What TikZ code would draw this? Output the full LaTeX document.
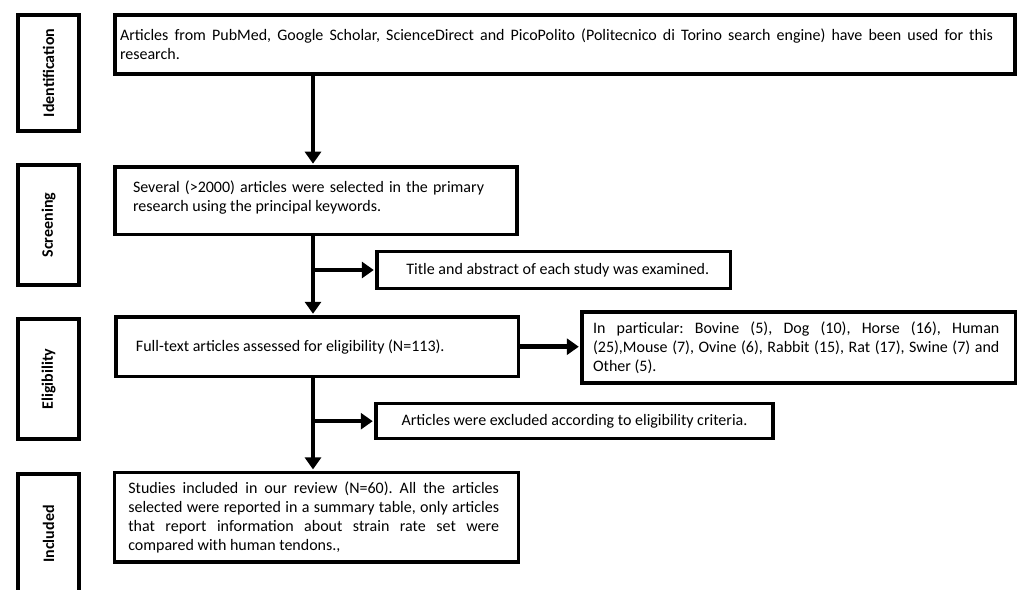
\documentclass[tikz,border=0pt]{standalone}
\usepackage{fontspec}
\setmainfont{Carlito}
\usetikzlibrary{arrows.meta}
\newcommand\jtext[4]{\hspace*{#1}\begin{minipage}{#2}\frenchspacing #4\end{minipage}\hspace*{#3}}
\tikzset{
  box/.style={draw, line width=3.5pt, inner sep=0pt, font=\fontsize{16}{19}\selectfont},
  lab/.style={draw, line width=3.5pt, inner sep=0pt, rotate=90, minimum height=61pt,
              font=\fontsize{16}{19}\selectfont\bfseries},
  arr/.style={line width=4.5pt, shorten >=1.5pt, -{Triangle[length=12pt,width=16pt]}},
}
\begin{document}
\begin{tikzpicture}[x=1pt,y=-1pt]
\clip (0,0) rectangle (1036,589);
\fill[white] (0,0) rectangle (1036,589);
% stage labels
\node[lab, minimum width=116pt] (idl) at (48.5,73) {Identification};
\node[lab, minimum width=120pt] (scl) at (48.5,225) {Screening};
\node[lab, minimum width=120pt] (ell) at (48.5,379) {Eligibility};
\node[lab, minimum width=120pt] (inl) at (48.5,534) {Included};
% boxes
\node[box, minimum height=59pt] (top) at (565,44.5)
  {\jtext{5pt}{873pt}{22pt}{Articles from PubMed, Google Scholar, ScienceDirect and PicoPolito (Politecnico di Torino search engine) have been used for this\linebreak research.}};
\node[box, minimum height=67.5pt] (scr) at (316,200.7)
  {\jtext{18pt}{351pt}{33pt}{Several (>2000) articles were selected in the primary\linebreak research using the principal keywords.\par\vspace{6pt}}};
\node[box, minimum width=353.5pt, minimum height=37.4pt] (title) at (553.8,270)
  {\hspace*{8pt}Title and abstract of each study was examined.};
\node[box, minimum height=59.3pt] (full) at (317.3,346.7)
  {\makebox[402.7pt][l]{\hspace*{20pt}Full-text articles assessed for eligibility (N=113).}};
\node[box, minimum height=71pt] (part) at (798.7,347.5)
  {\jtext{11pt}{406.3pt}{16pt}{In particular: Bovine (5), Dog (10), Horse (16), Human\linebreak (25),Mouse (7), Ovine (6), Rabbit (15), Rat (17), Swine (7) and\linebreak Other (5).}};
\node[box, minimum width=397pt, minimum height=35pt] (excl) at (574.5,421.2)
  {Articles were excluded according to eligibility criteria.};
\node[box, minimum height=89.3pt] (stud) at (316.7,517.3)
  {\jtext{13.6pt}{370.7pt}{19.7pt}{Studies included in our review (N=60). All the articles\linebreak selected were reported in a summary table, only articles\linebreak that report information about strain rate set were\linebreak compared with human tendons.,}};
% connectors
\coordinate (sp) at (313,0);
\draw[arr] (top.south -| sp) -- (scr.north -| sp);
\draw[arr] (scr.south -| sp) -- (full.north -| sp);
\draw[arr] (title.west -| sp) -- (title.west);
\draw[arr] (full.east) -- (full.east -| part.west);
\draw[arr] (full.south -| sp) -- (stud.north -| sp);
\draw[arr] (excl.west -| sp) -- (excl.west);
\end{tikzpicture}
\end{document}
